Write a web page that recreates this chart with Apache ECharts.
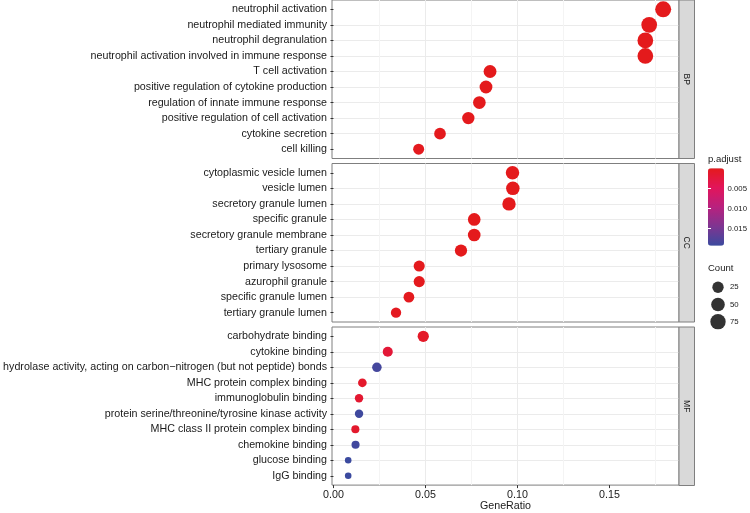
<!DOCTYPE html>
<html><head><meta charset="utf-8">
<script src="https://cdn.jsdelivr.net/npm/echarts@6/dist/echarts.min.js"></script>
<style>html,body{margin:0;padding:0;background:#fff}#c{width:750px;height:513px}</style>
</head><body><div id="c"></div>
<script>
// ---------------- data ----------------
const facets = ['BP', 'CC', 'MF'];

const bpTerms = ['neutrophil activation','neutrophil mediated immunity','neutrophil degranulation','neutrophil activation involved in immune response','T cell activation','positive regulation of cytokine production','regulation of innate immune response','positive regulation of cell activation','cytokine secretion','cell killing'];
const bpRatio = [0.1792, 0.1716, 0.1695, 0.1695, 0.0851, 0.0829, 0.0793, 0.0733, 0.0579, 0.0463];
const bpCount = [86, 82, 81, 81, 41, 40, 38, 35, 28, 22];
const bpPadj  = [2.1e-10, 3.5e-10, 5.0e-10, 5.0e-10, 1.2e-6, 8.5e-6, 2.3e-5, 6.0e-5, 1.1e-4, 2.6e-4];

const ccTerms = ['cytoplasmic vesicle lumen','vesicle lumen','secretory granule lumen','specific granule','secretory granule membrane','tertiary granule','primary lysosome','azurophil granule','specific granule lumen','tertiary granule lumen'];
const ccRatio = [0.0973, 0.0975, 0.0954, 0.0765, 0.0765, 0.0693, 0.0466, 0.0466, 0.0410, 0.0340];
const ccCount = [48, 48, 47, 38, 38, 34, 23, 23, 20, 17];
const ccPadj  = [1.0e-9, 1.0e-9, 1.5e-9, 2.0e-7, 3.0e-7, 4.0e-6, 1.0e-4, 1.0e-4, 2.0e-4, 4.0e-4];

const mfTerms = ['carbohydrate binding','cytokine binding','hydrolase activity, acting on carbon\u2212nitrogen (but not peptide) bonds','MHC protein complex binding','immunoglobulin binding','protein serine/threonine/tyrosine kinase activity','MHC class II protein complex binding','chemokine binding','glucose binding','IgG binding'];
const mfRatio = [0.0488, 0.0295, 0.0236, 0.0157, 0.0139, 0.0139, 0.0119, 0.0120, 0.0080, 0.0080];
const mfCount = [24, 15, 12, 8, 7, 7, 6, 6, 4, 4];
const mfPadj  = [0.0009, 0.0021, 0.0186, 0.0012, 0.0016, 0.0190, 0.0013, 0.0189, 0.0193, 0.0193];

const xTicks = [0, 0.05, 0.10, 0.15];
const padjTicks = [0.005, 0.010, 0.015];
const countBreaks = [25, 50, 75];

// ---------------- layout / style ----------------
const FONT = 'Liberation Sans';
const PX = 332, PW = 347, PH = 158.5;
const panelTops = [0, 163.5, 327];
const X_MIN = -0.0008, X_MAX = 0.1878;
const STRIP_X = 679, STRIP_W = 15.5;
const BORDER = '#7f7f7f';
const PADJ_MAX = 0.0193;
const COUNT_MIN = 4, COUNT_MAX = 86;
function sizeOf(c) { return 6.6 + 9.4 * Math.sqrt(Math.max(0, c - COUNT_MIN) / (COUNT_MAX - COUNT_MIN)); }

const panels = [
  { terms: bpTerms, ratio: bpRatio, count: bpCount, padj: bpPadj },
  { terms: ccTerms, ratio: ccRatio, count: ccCount, padj: ccPadj },
  { terms: mfTerms, ratio: mfRatio, count: mfCount, padj: mfPadj }
];

const grids = [], xAxes = [], yAxes = [], series = [], graphics = [];

panels.forEach((p, i) => {
  const idx = p.terms.map((_, j) => j + 1);
  const last = i === panels.length - 1;
  grids.push({ left: PX, top: panelTops[i], width: PW, height: PH, show: true,
    backgroundColor: '#fff', borderColor: BORDER, borderWidth: 1 });
  xAxes.push({
    type: 'value', gridIndex: i, min: X_MIN, max: X_MAX, splitNumber: 4,
    axisLine: { show: false },
    axisTick: { show: last, length: 3, customValues: xTicks, lineStyle: { color: '#333' } },
    axisLabel: { show: last, customValues: xTicks, formatter: v => v.toFixed(2),
      fontFamily: FONT, fontSize: 10.7, color: '#1a1a1a', margin: 4 },
    splitLine: { show: true, showMinLine: false, showMaxLine: false, lineStyle: { color: '#EBEBEB', width: 1 } },
    minorTick: { show: false, splitNumber: 2 },
    minorSplitLine: { show: true, lineStyle: { color: '#F4F4F4', width: 1 } },
    name: last ? 'GeneRatio' : '', nameLocation: 'middle', nameGap: 15,
    nameTextStyle: { fontFamily: FONT, fontSize: 10.7, color: '#1a1a1a' }
  });
  yAxes.push({
    type: 'value', gridIndex: i, min: 0.4, max: 10.6, inverse: true, splitNumber: 10,
    axisLine: { show: false },
    axisTick: { show: true, length: 3, customValues: idx, lineStyle: { color: '#333' } },
    axisLabel: { customValues: idx, formatter: v => p.terms[Math.round(v) - 1],
      fontFamily: FONT, fontSize: 10.7, color: '#1a1a1a', margin: 5 },
    splitLine: { show: true, showMinLine: false, showMaxLine: false, lineStyle: { color: '#EBEBEB', width: 1 } }
  });
  series.push({
    type: 'scatter', xAxisIndex: i, yAxisIndex: i,
    data: p.ratio.map((r, j) => [r, j + 1, p.padj[j], p.count[j]]),
    symbolSize: d => sizeOf(d[3]),
    itemStyle: { opacity: 1 }, z: 3
  });
  graphics.push({ type: 'rect', z: 10,
    shape: { x: STRIP_X, y: panelTops[i], width: STRIP_W, height: PH },
    style: { fill: '#D9D9D9', stroke: BORDER, lineWidth: 1 } });
  graphics.push({ type: 'text', z: 11, x: STRIP_X + STRIP_W / 2, y: panelTops[i] + PH / 2, rotation: -Math.PI / 2,
    style: { text: facets[i], fill: '#1a1a1a', fontFamily: FONT, fontSize: 8.5,
      align: 'center', verticalAlign: 'middle', textAlign: 'center', textVerticalAlign: 'middle' } });
});

// colour bar axis (grid 3)
const CB_LEFT = 708, CB_TOP = 168.3, CB_W = 16, CB_H = 77.4;
grids.push({ left: CB_LEFT, top: CB_TOP, width: CB_W, height: CB_H, show: false });
xAxes.push({ type: 'value', gridIndex: 3, show: false, min: 0, max: 1 });
yAxes.push({ type: 'value', gridIndex: 3, min: 0, max: PADJ_MAX, inverse: true, position: 'right', z: 10,
  axisLine: { show: false },
  axisTick: { show: true, inside: true, length: 3, customValues: padjTicks, lineStyle: { color: '#fff', width: 1 } },
  axisLabel: { customValues: padjTicks, formatter: v => v.toFixed(3), fontFamily: FONT, fontSize: 7.8, color: '#1a1a1a', margin: 5 },
  splitLine: { show: false } });
yAxes.push({ type: 'value', gridIndex: 3, min: 0, max: PADJ_MAX, inverse: true, position: 'left', z: 10,
  axisLine: { show: false },
  axisTick: { show: true, inside: true, length: 3, customValues: padjTicks, lineStyle: { color: '#fff', width: 1 } },
  axisLabel: { show: false }, splitLine: { show: false } });

// size legend (grid 4)
const SL_LEFT = 712, SL_TOP = 278.7, SL_W = 12, SL_H = 51.6;
grids.push({ left: SL_LEFT, top: SL_TOP, width: SL_W, height: SL_H, show: false });
xAxes.push({ type: 'value', gridIndex: 4, show: false, min: 0, max: 1 });
yAxes.push({ type: 'category', gridIndex: 4, data: countBreaks.map(String), inverse: true, position: 'right',
  axisLine: { show: false }, axisTick: { show: false }, splitLine: { show: false },
  axisLabel: { fontFamily: FONT, fontSize: 7.8, color: '#1a1a1a', margin: 6 } });
series.push({ type: 'scatter', xAxisIndex: 4, yAxisIndex: 5, clip: false,
  data: countBreaks.map(c => [0.5, String(c), c]),
  symbolSize: d => sizeOf(d[2]), itemStyle: { color: '#000' } });

graphics.push({ type: 'text', x: 708, y: 159.5, style: { text: 'p.adjust', fill: '#1a1a1a', fontFamily: FONT, fontSize: 9.5,
  align: 'left', verticalAlign: 'middle', textAlign: 'left', textVerticalAlign: 'middle' } });
graphics.push({ type: 'text', x: 708, y: 268.5, style: { text: 'Count', fill: '#1a1a1a', fontFamily: FONT, fontSize: 9.5,
  align: 'left', verticalAlign: 'middle', textAlign: 'left', textVerticalAlign: 'middle' } });

const chart = echarts.init(document.getElementById('c'), null, { renderer: 'canvas' });
chart.setOption({
  animation: false,
  backgroundColor: '#fff',
  textStyle: { fontFamily: FONT },
  grid: grids, xAxis: xAxes, yAxis: yAxes, series: series,
  visualMap: {
    type: 'continuous', min: 0, max: PADJ_MAX, dimension: 2, seriesIndex: [0, 1, 2],
    inverse: true, left: CB_LEFT, top: CB_TOP, itemWidth: CB_W, itemHeight: CB_H, padding: 0,
    calculable: false, text: null, hoverLink: false,
    inRange: { color: ['#E41A1C', '#E2155B', '#B8217E', '#7E3591', '#3B4A9F'] }
  },
  graphic: graphics
});
</script></body></html>
